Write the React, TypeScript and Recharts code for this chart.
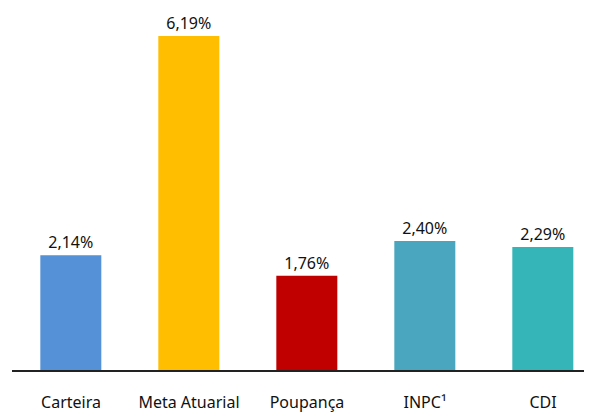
import React from 'react';
import { BarChart, Bar, XAxis, YAxis, Cell, LabelList } from 'recharts';

const categories = ['Carteira', 'Meta Atuarial', 'Poupança', 'INPC¹', 'CDI'];
const values = [2.14, 6.19, 1.76, 2.4, 2.29];
const colors = ['#5591D6', '#FFBE00', '#C00000', '#4AA6BF', '#35B5B8'];

const data = categories.map((name, i) => ({ name, value: values[i] }));

const fmt = (v: any) => Number(v).toFixed(2).replace('.', ',') + '%';

export default function App() {
  return (
    <div style={{ fontFamily: '"Noto Sans", sans-serif' }}>
      <BarChart width={592} height={408} data={data} margin={{ top: 28, right: -2, left: 4, bottom: 15 }} barCategoryGap="24%">
        <YAxis hide domain={[0, 6.19]} />
        <XAxis
          dataKey="name"
          height={30}
          tickLine={false}
          axisLine={{ stroke: '#222', strokeWidth: 2 }}
          tick={{ fill: '#111', fontSize: 16, dy: 18 }}
          interval={0}
        />
        <Bar dataKey="value" isAnimationActive={false}>
          {data.map((d, i) => (
            <Cell key={i} fill={colors[i]} />
          ))}
          <LabelList dataKey="value" position="top" formatter={fmt} style={{ fill: '#111', fontSize: 16 }} offset={7} />
        </Bar>
      </BarChart>
    </div>
  );
}
